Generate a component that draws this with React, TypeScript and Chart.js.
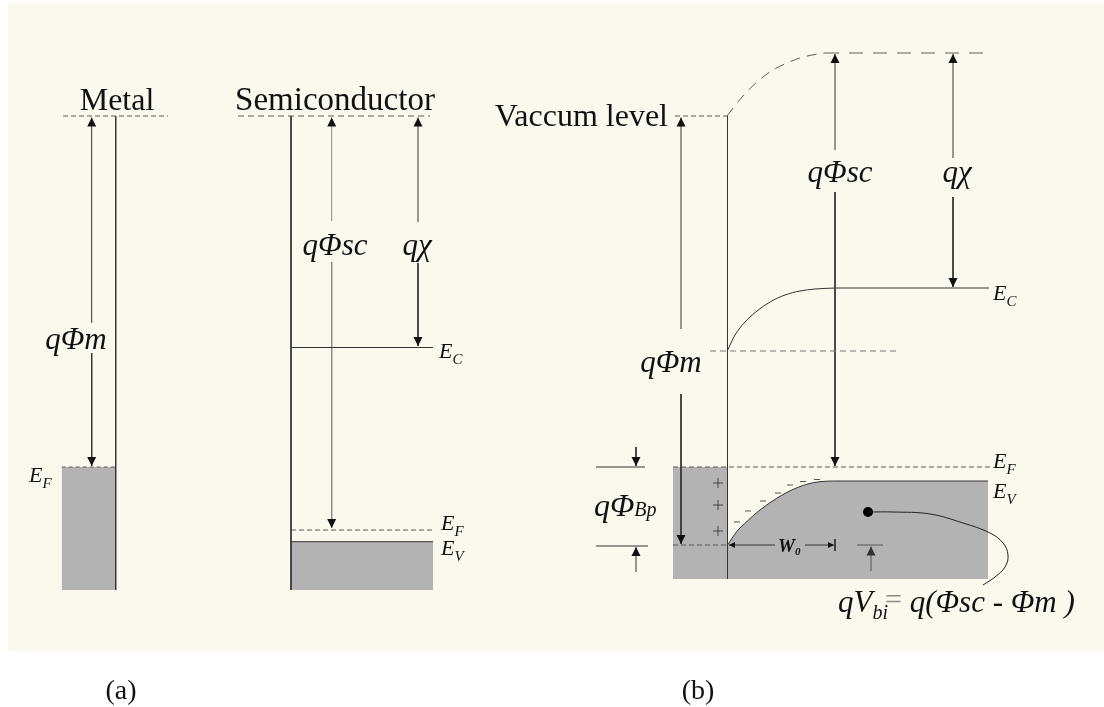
import React, { useEffect, useRef } from "react";
import { Chart, registerables } from "chart.js";

Chart.register(...registerables);

// ---------- diagram values (diagram units: x to the right, energy drawn downward) ----------
const X_RANGE = [0, 1104];
const Y_RANGE = [0, 707];
const PAPER_BOX = [8, 3, 1104, 651];

// Panel (a) — metal
const aMetalVacuum = [[63, 116], [168, 116]];
const aMetalSurface = [[115.7, 116], [115.7, 590]];
const aMetalBandTop = [[61.7, 467], [115.7, 467]];
const aMetalFermi = [[61.7, 467], [115.7, 467]];
const aMetalFloor = 590;
const aPhiMUp = [[91.7, 323], [91.7, 117.5]];
const aPhiMDown = [[91.7, 353], [91.7, 466]];

// Panel (a) — semiconductor
const aSemiVacuum = [[238, 116], [430, 116]];
const aSemiSurface = [[291, 116], [291, 590]];
const aSemiEc = [[291, 347.5], [433, 347.5]];
const aSemiEf = [[291, 530], [433, 530]];
const aSemiEv = [[291, 541.7], [433, 541.7]];
const aSemiFloor = 590;
const aPhiScUp = [[331.7, 221], [331.7, 117.5]];
const aPhiScDown = [[331.7, 262], [331.7, 528]];
const aChiUp = [[418, 222], [418, 117.5]];
const aChiDown = [[418, 263], [418, 346]];

// Panel (b) — junction
const bVacuumMetal = [[675, 116], [727, 116]];
const bVacuumBend = [[727, 116], [742, 97], [757, 82], [773, 70], [787, 63], [800, 58], [812, 55], [825, 53]];
const bVacuumFlat = [[825, 53], [990, 53]];
const bInterface = [[727.5, 116], [727.5, 579]];
const bPhiMUp = [[681, 329], [681, 117.5]];
const bPhiMDown = [[681, 394], [681, 544]];
const bPhiMLevel = [[710, 351], [897, 351]];
const bEcBend = [[727.7, 350], [735, 335], [745, 322], [757, 311], [770, 302], [785, 295], [800, 291], [815, 289], [835, 288]];
const bEcFlat = [[835, 288], [989, 288]];
const bPhiScUp = [[835, 150], [835, 54]];
const bPhiScDown = [[835, 192], [835, 466]];
const bChiUp = [[953, 158], [953, 54]];
const bChiDown = [[953, 197], [953, 287]];
const bMetalBandTop = [[673, 467], [727, 467]];
const bFermi = [[673, 467], [990, 467]];
const bMetalLow = [[673, 545], [727, 545]];
const bSemiBandTop = [[727.5, 545], [736.7, 531.7], [746.7, 521.7], [760, 510], [776.7, 498.3], [793.3, 489.3], [813.3, 482.7], [840, 481], [988, 481]];
const bFloor = 579;
const bPlus = [[718, 483], [718, 505], [718, 531]];
const bMinus = [[737, 522], [748, 511], [763, 501], [778, 493], [790, 485], [803, 481.5], [817, 479.5]];
const bPhiBpTopTick = [[596, 467], [645, 467]];
const bPhiBpTopArrow = [[636, 447], [636, 466]];
const bPhiBpBotTick = [[596, 546], [648, 546]];
const bPhiBpBotArrow = [[636, 572], [636, 547]];
const bW0Left = [[775, 545], [729, 545]];
const bW0Right = [[805, 545], [834, 545]];
const bW0Bar = [[835, 539], [835, 551]];
const bVbiTick = [[857, 545], [883, 545]];
const bVbiArrow = [[871, 571], [871, 546.5]];
const bDot = [[868, 512]];
const bLeader = [[868, 512], [893, 512], [930, 514], [963, 523], [990, 533], [1003, 543], [1008, 555], [1005, 567], [995, 577], [983, 585]];

// Text annotations: [text, size, style, baselineShift?, color?, kern?]
type Run = [string, number, string, number?, string?, number?];
type Label = { x: number; y: number; align: "left" | "center" | "right"; runs: Run[] };

const subE = (s: string): Run[] => [["E", 22, "i"], [s, 15, "i", 6]];

const LABELS: Label[] = [
  { x: 117, y: 110, align: "center", runs: [["Metal", 32, "n"]] },
  { x: 335, y: 110, align: "center", runs: [["Semiconductor", 33, "n"]] },
  { x: 76, y: 349, align: "center", runs: [["qΦm", 31, "i"]] },
  { x: 29, y: 482, align: "left", runs: subE("F") },
  { x: 335, y: 255, align: "center", runs: [["qΦsc", 31, "i"]] },
  { x: 417, y: 255, align: "center", runs: [["qχ", 31, "i"]] },
  { x: 439, y: 358, align: "left", runs: subE("C") },
  { x: 441, y: 530, align: "left", runs: subE("F") },
  { x: 441, y: 555, align: "left", runs: subE("V") },
  { x: 121, y: 699, align: "center", runs: [["(a)", 28, "n"]] },
  { x: 668, y: 126, align: "right", runs: [["Vaccum level", 32, "n"]] },
  { x: 671, y: 372, align: "center", runs: [["qΦm", 31, "i"]] },
  { x: 840, y: 182, align: "center", runs: [["qΦsc", 31, "i"]] },
  { x: 957, y: 182, align: "center", runs: [["qχ", 31, "i"]] },
  { x: 993, y: 300, align: "left", runs: subE("C") },
  { x: 993, y: 468, align: "left", runs: subE("F") },
  { x: 993, y: 498, align: "left", runs: subE("V") },
  { x: 594, y: 516, align: "left", runs: [["qΦ", 32, "i"], ["Bp", 20, "i"]] },
  { x: 778, y: 552, align: "left", runs: [["W", 19, "bi"], ["0", 11, "bi", 3]] },
  {
    x: 838, y: 612, align: "left",
    runs: [["qV", 31, "i"], ["bi", 20, "i", 7], ["=", 30, "n", -3, "#8a8a8a", -3], [" q(Φsc - Φm )", 31, "i"]],
  },
  { x: 698, y: 699, align: "center", runs: [["(b)", 28, "n"]] },
];

// ---------- styling ----------
const FONT = "'Liberation Serif', 'Times New Roman', serif";
const INK = "#333333";
const HEAD_INK = "#111111";
const DASH_INK = "#5c5c5c";
const SOFT_INK = "#8a8a8a";
const TEXT_INK = "#111111";
const BAND_GREY = "#b3b3b3";
const PAPER = "#fbf9ee";

const toPts = (a: number[][]) => a.map(([x, y]) => ({ x, y }));

function line(data: number[][], o: any = {}) {
  return {
    data: toPts(data),
    showLine: true,
    pointRadius: 0,
    pointHoverRadius: 0,
    borderWidth: 1,
    borderColor: INK,
    backgroundColor: INK,
    fill: false,
    tension: 0,
    ...o,
  };
}
const dashed = (data: number[][], dash: number[] = [5, 3], o: any = {}) =>
  line(data, { borderColor: DASH_INK, borderDash: dash, ...o });
const arrow = (data: number[][], o: any = {}) => line(data, { arrow: "end", arrowColor: HEAD_INK, ...o });
const band = (data: number[][], floor: number, o: any = {}) =>
  line(data, {
    borderColor: "transparent",
    fill: { target: { value: floor }, above: BAND_GREY, below: BAND_GREY },
    ...o,
  });
const smooth = { cubicInterpolationMode: "monotone" };

const paperPlugin = {
  id: "paper",
  beforeDraw(chart: any) {
    const { ctx, scales } = chart;
    const x0 = scales.x.getPixelForValue(PAPER_BOX[0]);
    const y0 = scales.y.getPixelForValue(PAPER_BOX[1]);
    const x1 = scales.x.getPixelForValue(PAPER_BOX[2]);
    const y1 = scales.y.getPixelForValue(PAPER_BOX[3]);
    ctx.save();
    ctx.fillStyle = "#ffffff";
    ctx.fillRect(0, 0, chart.width, chart.height);
    ctx.fillStyle = PAPER;
    ctx.fillRect(x0, y0, x1 - x0, y1 - y0);
    ctx.restore();
  },
};

const arrowPlugin = {
  id: "arrowHeads",
  afterDatasetsDraw(chart: any) {
    const ctx = chart.ctx;
    chart.data.datasets.forEach((ds: any, i: number) => {
      if (!ds.arrow) return;
      const pts = chart.getDatasetMeta(i).data;
      if (pts.length < 2) return;
      const head = (tip: any, from: any) => {
        const dx = tip.x - from.x;
        const dy = tip.y - from.y;
        const len = Math.hypot(dx, dy) || 1;
        const ux = dx / len;
        const uy = dy / len;
        const L = ds.arrowLength ?? 9;
        const W = ds.arrowWidth ?? 4.5;
        ctx.beginPath();
        ctx.moveTo(tip.x, tip.y);
        ctx.lineTo(tip.x - ux * L - uy * W, tip.y - uy * L + ux * W);
        ctx.lineTo(tip.x - ux * L + uy * W, tip.y - uy * L - ux * W);
        ctx.closePath();
        ctx.fill();
      };
      ctx.save();
      ctx.fillStyle = ds.arrowColor ?? ds.borderColor;
      if (ds.arrow === "end" || ds.arrow === "both") head(pts[pts.length - 1], pts[pts.length - 2]);
      if (ds.arrow === "start" || ds.arrow === "both") head(pts[0], pts[1]);
      ctx.restore();
    });
  },
};

const fontOf = (size: number, style: string) => {
  const st = style === "i" ? "italic " : style === "bi" ? "italic bold " : "";
  return `${st}${size}px ${FONT}`;
};

const textPlugin = {
  id: "richText",
  afterDatasetsDraw(chart: any) {
    const { ctx, scales } = chart;
    ctx.save();
    ctx.textBaseline = "alphabetic";
    ctx.textAlign = "left";
    LABELS.forEach((lb) => {
      let total = 0;
      const widths = lb.runs.map((r) => {
        ctx.font = fontOf(r[1], r[2]);
        const w = ctx.measureText(r[0]).width + (r[5] ?? 0);
        total += w;
        return w;
      });
      let x = scales.x.getPixelForValue(lb.x);
      const y = scales.y.getPixelForValue(lb.y);
      if (lb.align === "center") x -= total / 2;
      if (lb.align === "right") x -= total;
      lb.runs.forEach((r, k) => {
        ctx.font = fontOf(r[1], r[2]);
        ctx.fillStyle = r[4] ?? TEXT_INK;
        ctx.fillText(r[0], x + (r[5] ?? 0), y + (r[3] ?? 0));
        x += widths[k];
      });
    });
    ctx.restore();
  },
};

export default function App() {
  const ref = useRef<HTMLCanvasElement | null>(null);

  useEffect(() => {
    if (!ref.current) return;
    const datasets: any[] = [
      // bands (filled)
      band(aMetalBandTop, aMetalFloor),
      band(aSemiEv, aSemiFloor),
      band(bMetalBandTop, bFloor),
      band(bSemiBandTop, bFloor, { borderColor: INK, ...smooth }),

      // panel (a) metal
      dashed(aMetalVacuum),
      line(aMetalSurface),
      dashed(aMetalFermi, [4, 3]),
      arrow(aPhiMUp),
      arrow(aPhiMDown),

      // panel (a) semiconductor
      dashed(aSemiVacuum, [6, 4]),
      line(aSemiSurface),
      line(aSemiEc),
      dashed(aSemiEf, [5, 3]),
      line(aSemiEv),
      arrow(aPhiScUp, { borderColor: SOFT_INK }),
      arrow(aPhiScDown, { borderColor: SOFT_INK }),
      arrow(aChiUp),
      arrow(aChiDown),

      // panel (b)
      dashed(bVacuumMetal, [5, 3]),
      dashed(bVacuumBend, [10, 7], smooth),
      dashed(bVacuumFlat, [14, 10]),
      line(bInterface),
      arrow(bPhiMUp),
      arrow(bPhiMDown),
      dashed(bPhiMLevel, [6, 4], { borderColor: "#777777" }),
      line(bEcBend, smooth),
      line(bEcFlat),
      arrow(bPhiScUp),
      arrow(bPhiScDown),
      arrow(bChiUp),
      arrow(bChiDown),
      dashed(bFermi, [5, 3]),
      dashed(bMetalLow, [5, 3]),
      line(bPhiBpTopTick),
      arrow(bPhiBpTopArrow),
      line(bPhiBpBotTick),
      arrow(bPhiBpBotArrow),
      arrow(bW0Left, { arrowLength: 6, arrowWidth: 3 }),
      arrow(bW0Right, { arrowLength: 6, arrowWidth: 3 }),
      line(bW0Bar),
      line(bVbiTick, { borderColor: "#555555" }),
      arrow(bVbiArrow, { borderColor: "#555555", arrowColor: "#333333" }),
      line(bLeader, { tension: 0.4, borderColor: "#222222" }),
      {
        data: toPts(bPlus),
        showLine: false,
        pointStyle: "cross",
        pointRadius: 5,
        pointHoverRadius: 5,
        borderColor: "#444444",
        borderWidth: 1,
      },
      {
        data: toPts(bMinus),
        showLine: false,
        pointStyle: "line",
        pointRadius: 3,
        pointHoverRadius: 3,
        borderColor: "#555555",
        borderWidth: 1,
      },
      {
        data: toPts(bDot),
        showLine: false,
        pointStyle: "circle",
        pointRadius: 5,
        pointHoverRadius: 5,
        backgroundColor: "#000000",
        borderColor: "#000000",
        borderWidth: 0,
      },
    ];

    const chart = new Chart(ref.current, {
      type: "line",
      data: { datasets },
      options: {
        animation: false,
        responsive: false,
        maintainAspectRatio: false,
        devicePixelRatio: 1,
        events: [],
        layout: { padding: 0, autoPadding: false },
        scales: {
          x: { type: "linear", min: X_RANGE[0], max: X_RANGE[1], display: false },
          y: { type: "linear", min: Y_RANGE[0], max: Y_RANGE[1], reverse: true, display: false },
        },
        plugins: {
          legend: { display: false },
          tooltip: { enabled: false },
          title: { display: false },
          filler: { propagate: false, drawTime: "beforeDatasetsDraw" },
        },
      } as any,
      plugins: [paperPlugin, arrowPlugin, textPlugin],
    });
    return () => chart.destroy();
  }, []);

  return (
    <div style={{ position: "absolute", left: 0, top: 0, width: 1104, height: 707 }}>
      <canvas ref={ref} width={1104} height={707} style={{ display: "block", width: 1104, height: 707 }} />
    </div>
  );
}
